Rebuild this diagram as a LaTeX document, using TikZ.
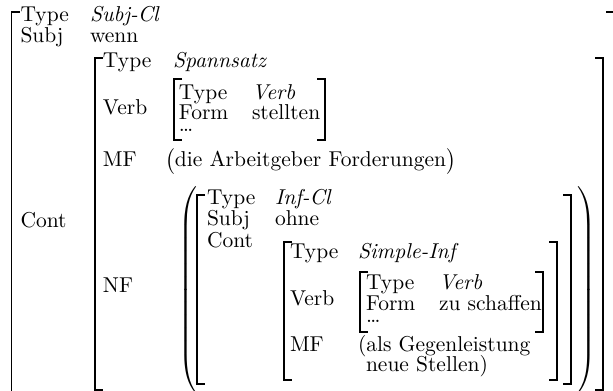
\documentclass[tikz,border=0pt]{standalone}
\usepackage{graphicx}

% square brackets of one attribute-value matrix:
% #1 left x, #2 right x, #3 top y, #4 bottom y
\newcommand\avmpair[4]{%
  \draw[brk] (#1+8,#3) -- (#1,#3) -- (#1,#4) -- (#1+8,#4);
  \draw[brk] (#2-8,#3) -- (#2,#3) -- (#2,#4) -- (#2-8,#4);}

\begin{document}
\begin{tikzpicture}[x=0.465pt,y=-0.465pt,
  key/.style={anchor=base west,inner sep=0pt,outer sep=0pt},
  brk/.style={line width=0.6pt,line join=miter},
  paren/.style={inner sep=0pt,outer sep=0pt},
]
\useasboundingbox (0,0) rectangle (613,391);
\clip (0,0) rectangle (613,391);

% outermost matrix (Subj-Cl)
\avmpair{11.5}{614}{12}{400}
\node[key] (t1)  at (20.5,22)  {Type};
\node[key] (t1v) at (90,22)    {\textit{Subj-Cl}};
\node[key] (s1)  at (20.5,43)  {Subj};
\node[key] (s1v) at (90,43)    {wenn};
\node[key] (c1)  at (20.5,228) {Cont};

% Spannsatz
\avmpair{95}{603}{58}{390}
\node[key] (t2)  at (103,68)  {Type};
\node[key] (t2v) at (173,68)  {\textit{Spannsatz}};
\node[key] (v2)  at (103,115) {Verb};
\avmpair{174}{325}{79}{140}
\node[key] (t3)  at (179,100) {Type};
\node[key] (t3v) at (252,100) {\textit{Verb}};
\node[key] (f3)  at (179,120) {Form};
\node[key] (f3v) at (252,120) {stellten};
\node[key] (d3)  at (179,132) {\dots};
\node[key] (m2)  at (103,167) {MF};
\node[key] (m2v) at (165,167) {$\bigl($die Arbeitgeber Forderungen$\bigr)$};
\node[key] (n2)  at (103,293) {NF};
\node[paren,anchor=east] (lp) at (197,290)
  {$\nulldelimiterspace=0pt\left(\vcenter{\hbox{\vrule height 48pt depth 48pt width 0pt}}\right.$};
\node[paren,anchor=west] (rp) at (577,290)
  {$\nulldelimiterspace=0pt\left.\vcenter{\hbox{\vrule height 48pt depth 48pt width 0pt}}\right)$};

% Inf-Cl
\avmpair{197}{571}{195}{384}
\node[key] (t4)  at (207,205) {Type};
\node[key] (t4v) at (275,205) {\textit{Inf-Cl}};
\node[key] (s4)  at (207,226) {Subj};
\node[key] (s4v) at (275,226) {ohne};
\node[key] (c4)  at (207,248) {Cont};

% Simple-Inf
\avmpair{284}{557}{242}{380}
\node[key] (t5)  at (290,259) {Type};
\node[key] (t5v) at (358,259) {\textit{Simple-Inf}};
\node[key] (v5)  at (290,306) {Verb};
\avmpair{360}{543}{272}{332}
\node[key] (t6)  at (366,290) {Type};
\node[key] (t6v) at (439,290) {\textit{Verb}};
\node[key] (f6)  at (366,311) {Form};
\node[key] (f6v) at (439,311) {zu schaffen};
\node[key] (d6)  at (366,323) {\dots};
\node[key] (m5)  at (290,352) {MF};
\node[key] (m5v) at (358,352) {(als Gegenleistung};
\node[key] (m5w) at (366,372) {neue Stellen)};
\end{tikzpicture}
\end{document}
